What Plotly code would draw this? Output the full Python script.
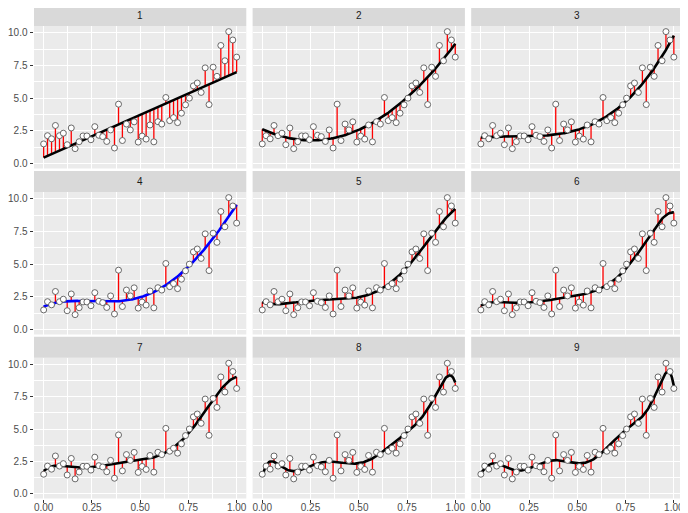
import numpy as np
import plotly.graph_objects as go

# ---- data ----
x_vals = [0.000, 0.020, 0.041, 0.061, 0.082, 0.102, 0.122, 0.143, 0.163, 0.184,
          0.204, 0.224, 0.245, 0.265, 0.286, 0.306, 0.327, 0.347, 0.367, 0.388,
          0.408, 0.429, 0.449, 0.469, 0.490, 0.510, 0.531, 0.551, 0.571, 0.592,
          0.612, 0.633, 0.653, 0.673, 0.694, 0.714, 0.735, 0.755, 0.776, 0.796,
          0.816, 0.837, 0.857, 0.878, 0.898, 0.918, 0.939, 0.959, 0.980, 1.000]
y_vals = [1.51, 2.14, 1.90, 2.92, 2.14, 2.33, 1.45, 2.73, 1.15, 1.68,
          2.12, 2.12, 1.83, 2.83, 2.17, 2.07, 1.70, 2.58, 1.20, 4.55,
          1.77, 3.03, 2.58, 3.20, 1.65, 2.11, 1.88, 2.96, 1.67, 3.21,
          3.03, 5.06, 3.29, 3.52, 3.14, 3.86, 4.50, 5.01, 5.95, 6.17,
          5.45, 7.33, 4.52, 7.38, 6.68, 9.04, 7.87, 10.10, 9.46, 8.15]
degrees = [1, 2, 3, 4, 5, 6, 7, 8, 9]
panel_labels = ["1", "2", "3", "4", "5", "6", "7", "8", "9"]
line_colors = ["black", "black", "black", "blue", "black", "black", "black", "black", "black"]
x_ticks = [0, 0.25, 0.5, 0.75, 1.0]
x_ticktext = ["0.00", "0.25", "0.50", "0.75", "1.00"]
y_ticks = [0, 2.5, 5, 7.5, 10]
y_ticktext = ["0.0", "2.5", "5.0", "7.5", "10.0"]
x_minor = [0.125, 0.375, 0.625, 0.875]
y_minor = [1.25, 3.75, 6.25, 8.75]

# ---- layout geometry (page pixels); page body has an 8px margin ----
W, H = 688, 513
OFF = 8
cols = [(34, 246.3), (252.6, 464.9), (471.2, 683.5)]
rows = [(26, 168.5), (192, 334.5), (357.7, 498.5)]
strip_h = 21
FONT = "Liberation Sans, Arial, sans-serif"


def px(v):
    return (v - OFF) / W


def py(v):
    return 1 - (v - OFF) / H


x = np.array(x_vals)
y = np.array(y_vals)
grid = np.linspace(0, 1, 200)

fig = go.Figure()
layout = dict(width=W, height=H, autosize=False,
              margin=dict(l=0, r=0, t=0, b=0),
              paper_bgcolor="white", plot_bgcolor="#EBEBEB",
              showlegend=False, font=dict(family=FONT))
shapes, annotations = [], []

for k, deg in enumerate(degrees):
    r, c = divmod(k, 3)
    sfx = "" if k == 0 else str(k + 1)
    xa, ya = "x" + sfx, "y" + sfx
    poly = np.polynomial.Polynomial.fit(x, y, deg)
    fitted = poly(x)

    sx, sy = [], []
    for xi, yi, fi in zip(x, y, fitted):
        sx += [xi, xi, None]
        sy += [yi, fi, None]
    fig.add_trace(go.Scatter(x=sx, y=sy, mode="lines", xaxis=xa, yaxis=ya,
                             line=dict(color="red", width=1.3), hoverinfo="skip"))
    fig.add_trace(go.Scatter(x=grid, y=poly(grid), mode="lines", xaxis=xa, yaxis=ya,
                             line=dict(color=line_colors[k], width=2.6)))
    fig.add_trace(go.Scatter(x=x, y=y, mode="markers", xaxis=xa, yaxis=ya,
                             marker=dict(size=6, color="white",
                                         line=dict(color="#595959", width=0.9))))

    x0, x1 = cols[c]
    y0, y1 = rows[r]
    left = c == 0
    bottom = r == 2
    layout["xaxis" + sfx] = dict(
        domain=[px(x0), px(x1)], anchor=ya, range=[-0.05, 1.05],
        tickmode="array", tickvals=x_ticks, ticktext=x_ticktext,
        showticklabels=bottom, ticks="outside" if bottom else "",
        ticklen=3, tickwidth=1, tickcolor="#333333", ticklabelstandoff=-4,
        tickfont=dict(size=10, color="#4D4D4D", family=FONT),
        showgrid=True, gridcolor="white", gridwidth=1.1,
        minor=dict(tickmode="array", tickvals=x_minor, showgrid=True,
                   gridcolor="white", gridwidth=0.55, ticks=""),
        zeroline=False, showline=False, fixedrange=True)
    layout["yaxis" + sfx] = dict(
        domain=[py(y1), py(y0)], anchor=xa, range=[-0.37, 10.53],
        tickmode="array", tickvals=y_ticks, ticktext=y_ticktext,
        showticklabels=left, ticks="outside" if left else "",
        ticklen=3.5, tickwidth=1, tickcolor="#333333",
        tickfont=dict(size=10, color="#4D4D4D", family=FONT),
        showgrid=True, gridcolor="white", gridwidth=1.1,
        minor=dict(tickmode="array", tickvals=y_minor, showgrid=True,
                   gridcolor="white", gridwidth=0.55, ticks=""),
        zeroline=False, showline=False, fixedrange=True)

    shapes.append(dict(type="rect", xref="paper", yref="paper",
                       x0=px(x0), x1=px(x1),
                       y0=py(y0), y1=py(y0 - strip_h),
                       fillcolor="#D9D9D9", line=dict(width=0), layer="below"))
    annotations.append(dict(xref="paper", yref="paper",
                            x=px((x0 + x1) / 2), y=py(y0 - strip_h / 2),
                            text=panel_labels[k], showarrow=False,
                            xanchor="center", yanchor="middle",
                            font=dict(size=10, color="#1A1A1A", family=FONT)))

layout["shapes"] = shapes
layout["annotations"] = annotations
fig.update_layout(**layout)
fig.write_html("out.html")
